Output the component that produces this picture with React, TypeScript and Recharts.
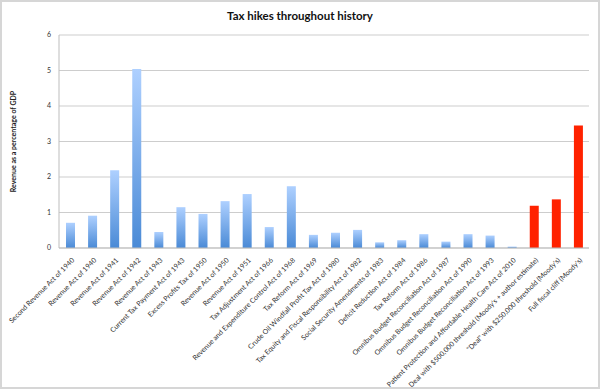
import React from "react";
import { BarChart, Bar, XAxis, YAxis, CartesianGrid, Cell } from "recharts";

const acts = [
  "Second Revenue Act of 1940",
  "Revenue Act of 1940",
  "Revenue Act of 1941",
  "Revenue Act of 1942",
  "Revenue Act of 1943",
  "Current Tax Payment Act of 1943",
  "Excess Profits Tax of 1950",
  "Revenue Act of 1950",
  "Revenue Act of 1951",
  "Tax Adjustment Act of 1966",
  "Revenue and Expenditure Control Act of 1968",
  "Tax Reform Act of 1969",
  "Crude Oil Windfall Profit Tax Act of 1980",
  "Tax Equity and Fiscal Responsibility Act of 1982",
  "Social Security Amendments of 1983",
  "Deficit Reduction Act of 1984",
  "Tax Reform Act of 1986",
  "Omnibus Budget Reconciliation Act of 1987",
  "Omnibus Budget Reconciliation Act of 1990",
  "Omnibus Budget Reconciliation Act of 1993",
  "Patient Protection and Affordable Health Care Act of 2010",
  "Deal with $500,000 threshold (Moody's + author estimate)",
  "\"Deal\" with $250,000 threshold (Moody's)",
  "Full fiscal cliff (Moody's)",
];

const revenuePct = [
  0.71, 0.91, 2.19, 5.04, 0.45, 1.15, 0.96, 1.32, 1.52, 0.59, 1.74, 0.37,
  0.43, 0.51, 0.16, 0.22, 0.39, 0.18, 0.39, 0.35, 0.04, 1.19, 1.37, 3.45,
];

// the last three are proposals, drawn in red
const isProposal = acts.map((_, i) => i >= 21);

const yTicks = [0, 1, 2, 3, 4, 5, 6];

const data = acts.map((name, i) => ({ name, value: revenuePct[i], proposal: isProposal[i] }));

const FONT = "Lato, 'Liberation Sans', sans-serif";

const ActTick = (props: any) => {
  const { x, y, payload } = props;
  return (
    <g transform={`translate(${x + 3},${y + 3})`}>
      <text x={0} y={0} dy="0.35em" textAnchor="end" transform="rotate(-45)" fontSize={7} fill="#333" fontFamily={FONT}>
        {payload.value}
      </text>
    </g>
  );
};

export default function App() {
  return (
    <div style={{ position: "absolute", left: 0, top: 0, width: 600, height: 389, background: "#fff" }}>
      <div
        style={{
          position: "absolute",
          left: 0,
          top: 9,
          width: 600,
          textAlign: "center",
          fontFamily: FONT,
          fontWeight: 700,
          fontSize: 11.5,
          color: "#111",
        }}
      >
        Tax hikes throughout history
      </div>
      <BarChart width={600} height={389} data={data} margin={{ top: 35, right: 11, bottom: 0, left: 0 }} barCategoryGap={6}>
        <defs>
          <linearGradient id="blueBar" x1="0" y1="0" x2="0" y2="1">
            <stop offset="0%" stopColor="#aed0ff" />
            <stop offset="100%" stopColor="#4a8ad6" />
          </linearGradient>
        </defs>
        <CartesianGrid vertical={false} stroke="#cdcdcd" strokeWidth={1} />
        <XAxis
          dataKey="name"
          interval={0}
          height={141}
          tickLine={false}
          axisLine={{ stroke: "#bdbdbd" }}
          tick={<ActTick />}
        />
        <YAxis
          width={59}
          domain={[0, 6]}
          ticks={yTicks}
          tickLine={false}
          axisLine={{ stroke: "#bdbdbd" }}
          tick={{ fontSize: 7, fill: "#333", fontFamily: FONT }}
          label={{
            value: "Revenue as a percentage of GDP",
            angle: -90,
            position: "insideLeft",
            offset: 14,
            style: { fontSize: 7, fontWeight: 700, fill: "#222", fontFamily: FONT, textAnchor: "middle" },
          }}
        />
        <Bar dataKey="value" barSize={9} isAnimationActive={false}>
          {data.map((d, i) => (
            <Cell key={i} fill={d.proposal ? "#ff2200" : "url(#blueBar)"} />
          ))}
        </Bar>
      </BarChart>
      <div
        style={{
          position: "absolute",
          left: 0,
          top: 0,
          width: 600,
          height: 389,
          boxSizing: "border-box",
          border: "2px solid #d6d6d6",
          pointerEvents: "none",
        }}
      />
    </div>
  );
}
